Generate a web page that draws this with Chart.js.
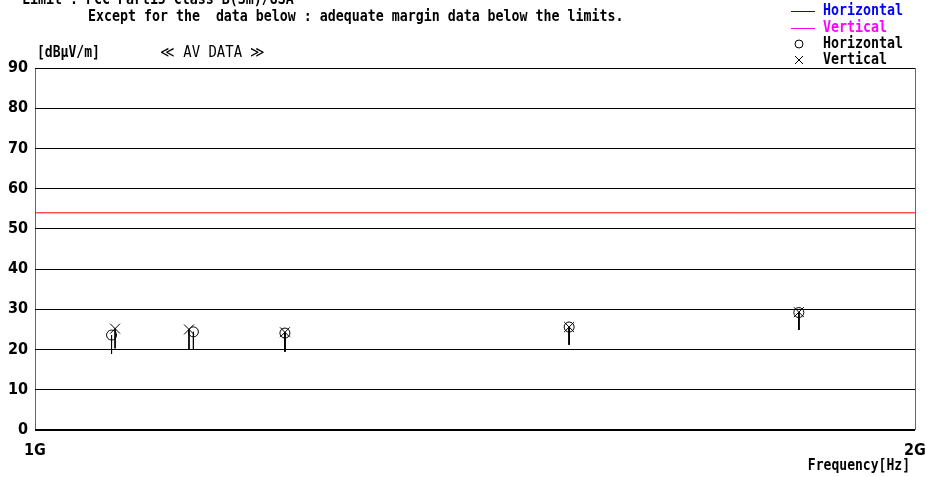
<!DOCTYPE html>
<html>
<head>
<meta charset="utf-8">
<script src="https://cdn.jsdelivr.net/npm/chart.js@4/dist/chart.umd.min.js"></script>
<style>
  body { margin: 0; background: #fff; }
  canvas { display: block; }
</style>
</head>
<body>
<canvas id="chart" width="926" height="477"></canvas>
<script>
// frequency in MHz, level in dBuV/m
const yTicks = [0, 10, 20, 30, 40, 50, 60, 70, 80, 90];
const xTickLabels = { 1000: "1G", 2000: "2G" };
const limitFreq = [1000, 2000];
const limitLevel = [54, 54];

const freqH = [1087, 1180, 1284, 1607, 1868];
const levelH = [23.6, 24.4, 24.1, 25.6, 29.2];
const stickLowH = [18.9, 20.0, 19.5, 21.2, 24.9];

const freqV = [1091, 1175, 1284, 1607, 1868];
const levelV = [25.2, 25.0, 24.3, 25.6, 29.3];
const stickLowV = [20.3, 20.1, 19.5, 21.2, 24.9];

const ctx = document.getElementById("chart");
const MONO = '"DejaVu Sans Mono", "Liberation Mono", monospace';
const TICKFONT = '"DejaVu Sans Condensed", "DejaVu Sans", sans-serif';

function sticks(freqs, highs, lows) {
    const pts = [];
    freqs.forEach((f, i) => {
        pts.push({ x: f, y: highs[i] });
        pts.push({ x: f, y: lows[i] });
        pts.push({ x: f, y: null });
    });
    return pts;
}

function drawText(c, text, x, y, size, weight, color, scaleX, align) {
    c.save();
    c.font = weight + " " + size + "px " + MONO;
    c.fillStyle = color;
    c.textBaseline = "middle";
    c.textAlign = align || "left";
    c.translate(x, y);
    c.scale(scaleX, 1);
    c.fillText(text, 0, 0);
    c.restore();
}

const textPlugin = {
    id: "texts",
    afterDraw(chart) {
        const c = chart.ctx;
        drawText(c, "Limit : FCC Part15 Class B(3m)/USA", 22, 0, 15, "bold", "#000", 0.885);
        drawText(c, "Except for the  data below : adequate margin data below the limits.", 88, 17, 15, "bold", "#000", 0.885);
        drawText(c, "[dB\u03bcV/m]", 37, 53, 15, "bold", "#000", 0.87);
        drawText(c, "\u226a AV DATA \u226b", 160, 53, 15, "normal", "#000", 0.93);
        drawText(c, "Frequency[Hz]", 910, 466, 15, "bold", "#000", 0.87, "right");

        // legend
        c.save();
        c.lineWidth = 1;
        c.strokeStyle = "#0000ff";
        c.beginPath(); c.moveTo(791, 11.5); c.lineTo(815, 11.5); c.stroke();
        c.strokeStyle = "#ff00ff";
        c.beginPath(); c.moveTo(791, 28.5); c.lineTo(815, 28.5); c.stroke();
        c.strokeStyle = "#000";
        c.beginPath(); c.arc(799, 44, 4, 0, Math.PI * 2); c.stroke();
        c.beginPath();
        c.moveTo(795, 56); c.lineTo(803, 64);
        c.moveTo(803, 56); c.lineTo(795, 64);
        c.stroke();
        c.restore();
        drawText(c, "Horizontal", 823, 11, 15, "bold", "#0000ff", 0.886);
        drawText(c, "Vertical", 823, 28, 15, "bold", "#ff00ff", 0.886);
        drawText(c, "Horizontal", 823, 44, 15, "bold", "#000", 0.886);
        drawText(c, "Vertical", 823, 60, 15, "bold", "#000", 0.886);
    }
};

new Chart(ctx, {
    type: "scatter",
    data: {
        datasets: [
            {
                label: "Limit",
                data: limitFreq.map((f, i) => ({ x: f, y: limitLevel[i] })),
                showLine: true,
                borderColor: "#ff0000",
                borderWidth: 1,
                pointRadius: 0,
            },
            {
                label: "Sticks H",
                data: sticks(freqH, levelH, stickLowH),
                showLine: true,
                spanGaps: false,
                borderColor: "#000",
                borderWidth: 1,
                pointRadius: 0,
            },
            {
                label: "Sticks V",
                data: sticks(freqV, levelV, stickLowV),
                showLine: true,
                spanGaps: false,
                borderColor: "#000",
                borderWidth: 1,
                pointRadius: 0,
            },
            {
                label: "Horizontal",
                data: freqH.map((f, i) => ({ x: f, y: levelH[i] })),
                pointStyle: "circle",
                pointRadius: 5,
                borderColor: "#000",
                backgroundColor: "rgba(0,0,0,0)",
                borderWidth: 1,
            },
            {
                label: "Vertical",
                data: freqV.map((f, i) => ({ x: f, y: levelV[i] })),
                pointStyle: "crossRot",
                pointRadius: 7,
                borderColor: "#000",
                borderWidth: 1,
            },
        ],
    },
    options: {
        responsive: false,
        animation: false,
        layout: { padding: { top: 68, right: 11, left: 0, bottom: 0 } },
        plugins: { legend: { display: false }, tooltip: { enabled: false } },
        scales: {
            x: {
                type: "linear",
                min: 1000,
                max: 2000,
                afterBuildTicks: (scale) => {
                    scale.ticks = [{ value: 1000 }, { value: 2000 }];
                },
                afterFit: (scale) => {
                    scale.height = 47;
                    scale.paddingLeft = 0;
                    scale.paddingRight = 0;
                },
                ticks: {
                    callback: (v) => xTickLabels[v] || "",
                    font: { family: TICKFONT, size: 16, weight: "bold" },
                    color: "#000",
                    padding: 11,
                    maxRotation: 0,
                },
                grid: { color: "#666", lineWidth: 1, drawTicks: false },
                border: { display: false },
            },
            y: {
                min: 0,
                max: 90,
                afterBuildTicks: (scale) => {
                    scale.ticks = yTicks.map((v) => ({ value: v }));
                },
                afterFit: (scale) => { scale.width = 35; },
                ticks: {
                    font: { family: TICKFONT, size: 16, weight: "bold" },
                    color: "#000",
                    padding: 7,
                },
                grid: {
                    color: "#000",
                    lineWidth: (c) => (c.tick && c.tick.value === 0 ? 2 : 1),
                    drawTicks: false,
                },
                border: { display: false },
            },
        },
    },
    plugins: [textPlugin],
});
</script>
</body>
</html>
